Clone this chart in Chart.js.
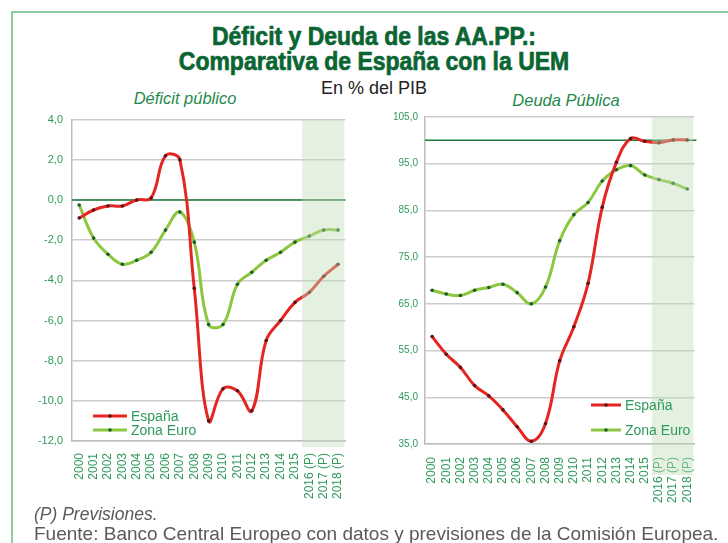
<!DOCTYPE html>
<html>
<head>
<meta charset="utf-8">
<script src="https://cdn.jsdelivr.net/npm/chart.js@4.4.1/dist/chart.umd.min.js"></script>
<style>
    body { margin: 0; background: #fff; }
    #wrap { position: relative; width: 728px; height: 543px; overflow: hidden; background: #fff; font-family: "Liberation Sans", Arial, sans-serif; }
    #frame { position: absolute; left: 11px; top: 11px; width: 730px; height: 540px; border-left: 2px solid #8fcaa3; border-top: 2px solid #8fcaa3; }
    .abs { position: absolute; white-space: nowrap; }
    #title { left: 10px; width: 728px; top: 24px; text-align: center; font-weight: bold; font-size: 25.5px; line-height: 25px; color: #0b6533; transform: scaleX(0.9); transform-origin: 364px 0; -webkit-text-stroke: 0.7px #0b6533; }
    #sub { left: 10px; width: 728px; top: 79px; text-align: center; font-size: 18px; line-height: 18px; color: #222; }
    .ctitle { top: 90px; font-style: italic; font-size: 16.5px; line-height: 17px; color: #1f8a4c; width: 200px; text-align: center; }
    #note { left: 34px; top: 505px; font-style: italic; font-size: 17.5px; line-height: 18px; color: #5a5a5a; }
    #src { left: 34px; top: 524px; font-size: 19px; line-height: 19px; color: #5a5a5a; }
    canvas { position: absolute; }
</style>
</head>
<body>
<div id="wrap">
    <div id="frame"></div>
    <div id="title" class="abs">Déficit y Deuda de las AA.PP.:<br>Comparativa de España con la UEM</div>
    <div id="sub" class="abs">En % del PIB</div>
    <div class="abs ctitle" style="left:85px;">Déficit público</div>
    <div class="abs ctitle" style="left:466px; top:92px;">Deuda Pública</div>
    <canvas id="deficitChart" width="345" height="406" style="left:20px; top:104px;"></canvas>
    <canvas id="deudaChart" width="345" height="406" style="left:370px; top:104px;"></canvas>
    <div id="note" class="abs">(P) Previsiones.</div>
    <div id="src" class="abs">Fuente: Banco Central Europeo con datos y previsiones de la Comisión Europea.</div>
</div>
<script>
const years = ['2000', '2001', '2002', '2003', '2004', '2005', '2006', '2007', '2008', '2009',
    '2010', '2011', '2012', '2013', '2014', '2015', '2016 (P)', '2017 (P)', '2018 (P)'];

// Déficit público (% PIB)
const deficitEspana = [-0.9, -0.5, -0.3, -0.3, 0.0, 0.1, 2.2, 2.0, -4.4, -11.0,
    -9.4, -9.5, -10.5, -7.0, -6.0, -5.1, -4.6, -3.8, -3.2];
const deficitEuro = [-0.25, -1.9, -2.7, -3.2, -3.0, -2.6, -1.5, -0.6, -2.1, -6.2,
    -6.2, -4.2, -3.6, -3.0, -2.6, -2.1, -1.8, -1.5, -1.5];

// Deuda pública (% PIB)
const deudaEspana = [58.0, 54.2, 51.4, 47.5, 45.3, 42.3, 38.7, 35.6, 39.4, 52.8,
    60.1, 69.4, 85.7, 95.3, 100.4, 99.8, 99.5, 100.1, 100.1];
const deudaEuro = [67.9, 67.1, 66.8, 67.9, 68.5, 69.2, 67.4, 65.0, 68.6, 78.5,
    84.1, 86.7, 91.3, 93.7, 94.6, 92.6, 91.6, 90.8, 89.6];

const seriesNames = ['España', 'Zona Euro'];
const firstForecast = 16;

const red = '#e42521';
const lime = '#8dc63f';
const tickGreen = '#2f9a5c';
const gridGray = '#cccccc';

function fmt(v) {
    return v.toFixed(1).replace('.', ',');
}

function decor(o) {
    return {
        id: 'decor',
        beforeDatasetsDraw(chart) {
            const ctx = chart.ctx;
            const y = chart.scales.y.getPixelForValue(o.refValue);
            ctx.save();
            ctx.strokeStyle = '#1d7a3d';
            ctx.lineWidth = 1.5;
            ctx.beginPath();
            ctx.moveTo(chart.chartArea.left, y);
            ctx.lineTo(chart.chartArea.right + o.refExtra, y);
            ctx.stroke();
            ctx.restore();
        },
        afterDatasetsDraw(chart) {
            const ctx = chart.ctx;
            const x = chart.scales.x;
            const start = (x.getPixelForValue(firstForecast - 1) + x.getPixelForValue(firstForecast)) / 2;
            const area = chart.chartArea;
            ctx.save();
            ctx.fillStyle = 'rgba(190, 222, 180, 0.42)';
            ctx.fillRect(start, area.top, area.right - start - 1, area.bottom - area.top + o.shadeBelow);
            ctx.restore();
        },
        afterDraw(chart) {
            const ctx = chart.ctx;
            ctx.save();
            chart.data.datasets.forEach(function(ds, i) {
                const y = o.legendY[i];
                ctx.strokeStyle = ds.borderColor;
                ctx.lineWidth = 3;
                ctx.beginPath();
                ctx.moveTo(o.legendX, y);
                ctx.lineTo(o.legendX + o.legendLen, y);
                ctx.stroke();
                ctx.fillStyle = ds.pointBackgroundColor;
                ctx.beginPath();
                ctx.arc(o.legendX + o.legendLen / 2, y, 1.8, 0, Math.PI * 2);
                ctx.fill();
                ctx.fillStyle = tickGreen;
                ctx.font = o.legendFont;
                ctx.textBaseline = 'middle';
                ctx.fillText(ds.label, o.legendX + o.legendLen + 4, y + 1);
            });
            ctx.restore();
        }
    };
}

function makeConfig(spain, euro, yOpts, layout, deco) {
    return {
        type: 'line',
        data: {
            labels: years,
            datasets: [
                {
                    label: seriesNames[0],
                    data: spain,
                    borderColor: red,
                    borderWidth: 3,
                    pointRadius: 1.8,
                    pointBorderWidth: 0,
                    pointBackgroundColor: '#5a1414',
                    tension: 0.4,
                    fill: false
                },
                {
                    label: seriesNames[1],
                    data: euro,
                    borderColor: lime,
                    borderWidth: 3,
                    pointRadius: 1.8,
                    pointBorderWidth: 0,
                    pointBackgroundColor: '#1b5e2c',
                    tension: 0.4,
                    fill: false
                }
            ]
        },
        options: {
            responsive: false,
            animation: false,
            layout: { padding: layout.padding },
            plugins: {
                legend: { display: false },
                tooltip: { enabled: false }
            },
            scales: {
                x: {
                    offset: true,
                    grid: { display: false, drawTicks: false },
                    border: { color: '#bdbdbd', width: 1.5 },
                    ticks: {
                        autoSkip: false,
                        minRotation: 90,
                        maxRotation: 90,
                        padding: layout.xPad,
                        color: tickGreen,
                        font: { family: 'Liberation Sans', size: 12 }
                    },
                    afterFit(scale) { scale.height = layout.xHeight; }
                },
                y: {
                    min: yOpts.min,
                    max: yOpts.max,
                    grid: {
                        color: gridGray,
                        lineWidth: 1.5,
                        drawTicks: false
                    },
                    border: { color: '#bdbdbd', width: 1.5 },
                    ticks: {
                        stepSize: yOpts.step,
                        padding: yOpts.pad,
                        color: tickGreen,
                        font: { family: 'Liberation Sans', size: yOpts.fontSize },
                        callback: function(v) { return fmt(v); }
                    },
                    afterFit(scale) { scale.width = layout.yWidth; }
                }
            }
        },
        plugins: [decor(deco)]
    };
}

const ctx1 = document.getElementById('deficitChart').getContext('2d');
new Chart(ctx1, makeConfig(deficitEspana, deficitEuro,
    { min: -12, max: 4, step: 2, pad: 9, fontSize: 11 },
    { padding: { top: 8, right: 19, left: 0, bottom: 0 }, xHeight: 69, yWidth: 52, xPad: 12 },
    { refValue: 0, refExtra: 0, shadeBelow: 6, legendX: 73, legendY: [312, 326], legendLen: 34, legendFont: '14px "Liberation Sans"' }));

const ctx2 = document.getElementById('deudaChart').getContext('2d');
new Chart(ctx2, makeConfig(deudaEspana, deudaEuro,
    { min: 35, max: 105, step: 10, pad: 7, fontSize: 10 },
    { padding: { top: 9, right: 11, left: 0, bottom: 0 }, xHeight: 66, yWidth: 55, xPad: 13 },
    { refValue: 100, refExtra: 2, shadeBelow: 31, legendX: 221, legendY: [301, 326], legendLen: 30, legendFont: '14px "Liberation Sans"' }));
</script>
</body>
</html>
